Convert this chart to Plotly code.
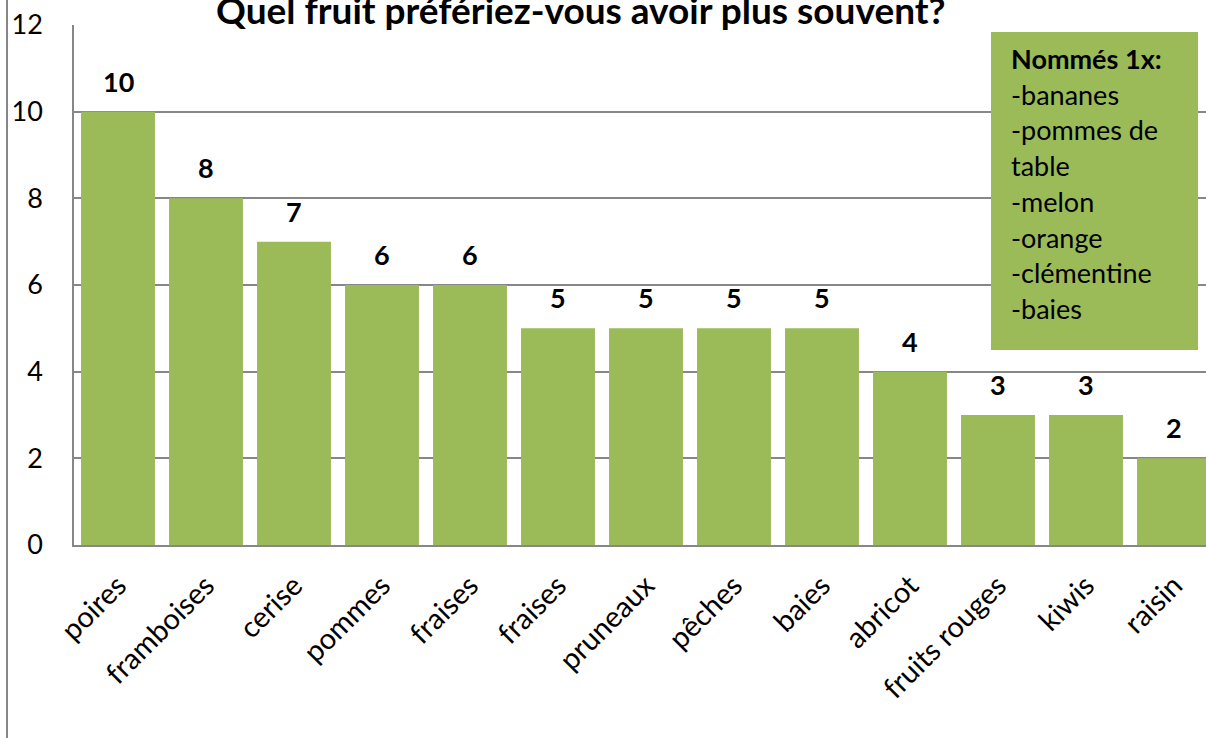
import plotly.graph_objects as go

categories = ["poires", "framboises", "cerise", "pommes", "fraises", "fraises",
              "pruneaux", "pêches", "baies", "abricot", "fruits rouges", "kiwis", "raisin"]
values = [10, 8, 7, 6, 6, 5, 5, 5, 5, 4, 3, 3, 2]
y_ticks = [0, 2, 4, 6, 8, 10, 12]
title_text = "Quel fruit préfériez-vous avoir plus souvent?"
box_title = "Nommés 1x:"
box_items = ["-bananes", "-pommes de", "table", "-melon", "-orange", "-clémentine", "-baies"]

GREEN = "#9BBB59"
GRID = "#878787"
FONT = "Lato"

W, H = 1206, 738
L, T, B = 74, 25, 193
plot_h = H - T - B
x_pos = list(range(len(categories)))

fig = go.Figure()
fig.add_trace(go.Bar(x=x_pos, y=values, marker=dict(color=GREEN, line=dict(width=0)),
                     hoverinfo="skip"))

# data labels
for xi, v in zip(x_pos, values):
    fig.add_annotation(x=xi, y=v, text=f"<b>{v}</b>", showarrow=False,
                       yanchor="bottom", yshift=12,
                       font=dict(family=FONT, size=27, color="black"))

# title
fig.add_annotation(xref="paper", yref="paper", x=(581 - L) / (W - L), y=1 + (T - 9) / plot_h,
                   text=f"<b>{title_text}</b>", showarrow=False, yanchor="middle",
                   xanchor="center", font=dict(family=FONT, size=37, color="black"))

# side box
def px_x(px):
    return (px - L) / (W - L)

def px_y(py):
    return (H - B - py) / plot_h

fig.add_shape(type="rect", xref="paper", yref="paper",
              x0=px_x(991), x1=px_x(1198), y0=px_y(350), y1=px_y(32),
              fillcolor=GREEN, line=dict(width=0), layer="above")
lines = [f"<b>{box_title}</b>"] + box_items
for i, ln in enumerate(lines):
    fig.add_annotation(xref="paper", yref="paper", x=px_x(1009), y=px_y(70 + 35.7 * i),
                       text=ln, showarrow=False, xanchor="left", yanchor="bottom",
                       yshift=-7,
                       font=dict(family=FONT, size=27, color="black"))

# chart area left border
fig.add_shape(type="line", xref="paper", yref="paper",
              x0=px_x(7), x1=px_x(7), y0=px_y(0) + 0.1, y1=px_y(H) - 0.1,
              line=dict(color=GRID, width=2))

fig.update_layout(
    width=W, height=H,
    margin=dict(l=L, r=0, t=T, b=B, autoexpand=False),
    paper_bgcolor="white", plot_bgcolor="white",
    bargap=0.16, showlegend=False,
    font=dict(family=FONT, size=27, color="black"),
    xaxis=dict(range=[-0.5, 12.5 - 12 / 88], tickmode="array", tickvals=x_pos,
               ticktext=categories, tickangle=-45, showgrid=False, automargin=False,
               showline=True, linecolor=GRID, linewidth=2, ticks="",
               ticklabelstandoff=10,
               tickfont=dict(family=FONT, size=29, color="black"), zeroline=False),
    yaxis=dict(range=[0, 12], tickmode="array", tickvals=y_ticks, showgrid=True,
               gridcolor=GRID, gridwidth=1.5, showline=True, linecolor=GRID,
               linewidth=1.5, zeroline=False, ticks="", ticklabelstandoff=24,
               automargin=False,
               tickfont=dict(family=FONT, size=27, color="black")),
)

fig.write_html("out.html", config={"displayModeBar": False},
               post_script="document.body.style.margin='0';document.body.style.overflow='hidden';")
